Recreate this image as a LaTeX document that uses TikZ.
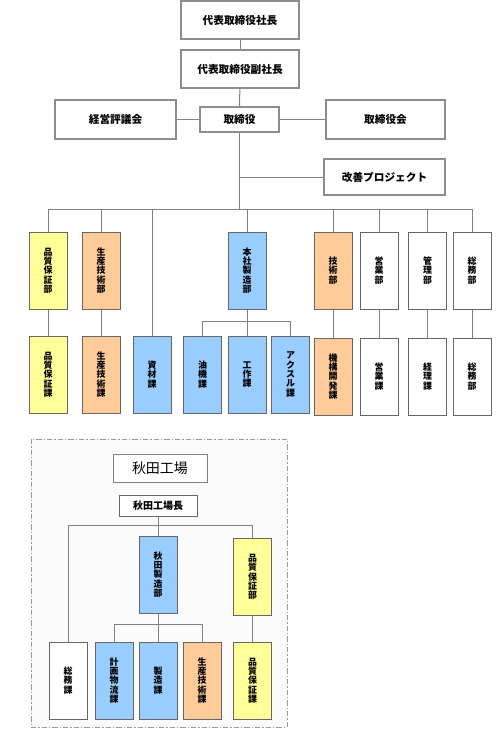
\documentclass[tikz,border=0pt]{standalone}
\usepackage{fontspec}
\setmainfont{Noto Sans CJK JP}
\usetikzlibrary{positioning}
\definecolor{cyel}{HTML}{FFFF99}
\definecolor{cora}{HTML}{FFCC99}
\definecolor{cblu}{HTML}{99CCFF}
\definecolor{cline}{HTML}{808080}
\definecolor{cbord}{HTML}{666666}
\definecolor{cframe}{HTML}{FBFBFB}
\tikzset{
  topbox/.style={draw=cline!90!white, line width=1.5pt, fill=white, inner sep=0pt,
    font=\fontsize{8}{9}\selectfont\bfseries},
  hbox/.style={draw=cbord, line width=0.75pt, fill=white, inner sep=0pt,
    font=\fontsize{8}{9}\selectfont\bfseries},
  dept/.style={draw=cbord, line width=0.75pt, inner sep=0pt, align=center,
    minimum width={38*0.75pt}, minimum height={77*0.75pt},
    font=\fontsize{6.7}{7}\selectfont\bfseries},
  conn/.style={draw=cline, line width=0.75pt},
}
\begin{document}
\begin{tikzpicture}[x=0.75pt,y=-0.75pt]
\useasboundingbox[fill=white] (0,0) rectangle (503,744);

% ---- top management ----
\node[topbox, minimum width={118*0.75pt}, minimum height={38*0.75pt}] (ceo) at (240,20) {代表取締役社長};
\node[topbox, minimum width={118*0.75pt}, minimum height={38*0.75pt}] (vp) at (240,69) {代表取締役副社長};
\node[topbox, minimum width={121*0.75pt}, minimum height={39*0.75pt}] (keiei) at (115.5,119.5) {経営評議会};
\node[topbox, minimum width={79*0.75pt}, minimum height={25*0.75pt}] (tori) at (239.5,119.5) {取締役};
\node[topbox, minimum width={119*0.75pt}, minimum height={39*0.75pt}] (torikai) at (385.5,119.5) {取締役会};
\node[topbox, minimum width={121*0.75pt}, minimum height={36*0.75pt}] (kaizen) at (384.5,177) {改善プロジェクト};

% ---- departments ----
\node[dept, fill=cyel] (hin) at (48,270.5) {品\\質\\保\\証\\部};
\node[dept, fill=cora] (sei) at (101,270.5) {生\\産\\技\\術\\部};
\node[dept, fill=cblu] (hon) at (247,270.5) {本\\社\\製\\造\\部};
\node[dept, fill=cora] (gij) at (333,270.5) {技\\術\\部};
\node[dept, fill=white] (eig) at (379,270.5) {営\\業\\部};
\node[dept, fill=white] (kan) at (427.5,270.5) {管\\理\\部};
\node[dept, fill=white] (som) at (472,270.5) {総\\務\\部};

\node[dept, fill=cyel] (hinka) at (48,374.5) {品\\質\\保\\証\\課};
\node[dept, fill=cora] (seika) at (101,374.5) {生\\産\\技\\術\\課};
\node[dept, fill=cblu] (shi) at (152,374.5) {資\\材\\課};
\node[dept, fill=cblu] (yuk) at (202.5,374.5) {油\\機\\課};
\node[dept, fill=cblu] (kos) at (247,374.5) {工\\作\\課};
\node[dept, fill=cblu] (axl) at (290.5,374.5) {ア\\ク\\ス\\ル\\課};
\node[dept, fill=cora] (kik) at (333,376.5) {機\\構\\開\\発\\課};
\node[dept, fill=white] (eigka) at (379,376.5) {営\\業\\課};
\node[dept, fill=white] (kei) at (427.5,376.5) {経\\理\\課};
\node[dept, fill=white] (somka) at (472,376.5) {総\\務\\部};

% ---- top connectors ----
\coordinate (busL) at (48,209);
\coordinate (busR) at (472,209);
\coordinate (subH) at (202.5,321);
\draw[conn] (ceo) -- (vp);
\draw[conn] (vp) -- (tori);
\draw[conn] (keiei) -- (tori);
\draw[conn] (tori) -- (torikai);
\draw[conn] (tori.south) -- (tori.south |- busL);
\draw[conn] (tori.south |- kaizen.west) -- (kaizen.west);
\draw[conn] (busL) -- (busR);
\foreach \n in {hin,sei,hon,gij,eig,kan,som}{
  \draw[conn] (\n.north |- busL) -- (\n.north);
}
\draw[conn] (shi.north |- busL) -- (shi.north);
\foreach \a/\b in {hin/hinka,sei/seika,gij/kik,eig/eigka,kan/kei,som/somka}{
  \draw[conn] (\a.south) -- (\b.north);
}
\draw[conn] (hon.south) -- (hon.south |- subH);
\draw[conn] (subH) -- (axl.north |- subH);
\foreach \n in {yuk,kos,axl}{
  \draw[conn] (\n.north |- subH) -- (\n.north);
}

% ---- Akita factory ----
\draw[draw=cline!80!white, line width=0.75pt, dash pattern=on 4pt off 1.5pt on 1pt off 1.5pt, fill=cframe]
  (31,439) rectangle (287,727);
\node[draw=cline, line width=0.75pt, fill=white, minimum width={94*0.75pt}, minimum height={28*0.75pt},
  inner sep=0pt, font=\fontsize{10.5}{12}\selectfont] (akt) at (160,468) {秋田工場};
\node[hbox, minimum width={78*0.75pt}, minimum height={21*0.75pt}, font=\fontsize{7.5}{9}\selectfont\bfseries]
  (cho) at (158,505.5) {秋田工場長};

\node[dept, fill=cblu] (aks) at (158,574.5) {秋\\田\\製\\造\\部};
\node[dept, fill=cyel] (akh) at (252.5,577) {品\\質\\保\\証\\部};
\node[dept, fill=white] (aksom) at (68,680.5) {総\\務\\課};
\node[dept, fill=cblu] (akkei) at (114,680.5) {計\\画\\物\\流\\課};
\node[dept, fill=cblu] (akseiz) at (158,680.5) {製\\造\\課};
\node[dept, fill=cora] (akseis) at (202,680.5) {生\\産\\技\\術\\課};
\node[dept, fill=cyel] (akhka) at (252.5,680.5) {品\\質\\保\\証\\課};

\coordinate (abusL) at (68,525);
\coordinate (abusR) at (252.5,525);
\coordinate (asub) at (114,624);
\draw[conn] (cho.south) -- (cho.south |- abusL);
\draw[conn] (abusL) -- (abusR);
\draw[conn] (abusL) -- (aksom.north);
\draw[conn] (aks.north |- abusL) -- (aks.north);
\draw[conn] (abusR) -- (akh.north);
\draw[conn] (akh.south) -- (akhka.north);
\draw[conn] (aks.south) -- (aks.south |- asub);
\draw[conn] (asub) -- (akseis.north |- asub);
\foreach \n in {akkei,akseiz,akseis}{
  \draw[conn] (\n.north |- asub) -- (\n.north);
}
\end{tikzpicture}
\end{document}
